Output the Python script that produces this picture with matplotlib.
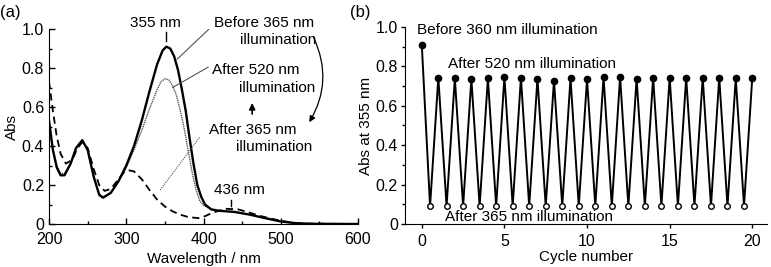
import numpy as np
import matplotlib.pyplot as plt
from matplotlib.ticker import MultipleLocator
from matplotlib.patches import FancyArrowPatch

plt.rcParams['font.family'] = ['Liberation Sans', 'DejaVu Sans']
plt.rcParams['font.size'] = 10

# (a) absorption spectra
wl_before = [200, 205, 210, 215, 220, 228, 235, 243, 250, 258, 265, 270, 280, 290, 300,
             310, 320, 330, 340, 347, 352, 357, 362, 367, 372, 377, 382, 387, 392, 397,
             402, 410, 420, 440, 460, 480, 500, 520, 540, 600]
abs_before = [0.53, 0.38, 0.29, 0.25, 0.25, 0.31, 0.39, 0.43, 0.38, 0.24, 0.15, 0.135, 0.16, 0.22, 0.30,
              0.40, 0.53, 0.68, 0.82, 0.89, 0.91, 0.90, 0.86, 0.79, 0.69, 0.58, 0.44, 0.31, 0.20, 0.14,
              0.10, 0.075, 0.068, 0.062, 0.048, 0.03, 0.013, 0.004, 0.001, 0.0]

wl_after520 = [200, 205, 210, 215, 220, 228, 235, 243, 250, 258, 265, 270, 280, 290, 300,
               310, 320, 330, 340, 345, 350, 355, 360, 365, 370, 375, 380, 385, 390, 395,
               400, 410, 420, 440, 460, 480, 500, 520, 540, 600]
abs_after520 = [0.52, 0.38, 0.30, 0.26, 0.26, 0.31, 0.39, 0.43, 0.38, 0.24, 0.15, 0.14, 0.16, 0.22, 0.29,
                0.38, 0.48, 0.59, 0.69, 0.73, 0.745, 0.74, 0.71, 0.66, 0.58, 0.49, 0.38, 0.27, 0.18, 0.12,
                0.095, 0.075, 0.068, 0.062, 0.048, 0.03, 0.013, 0.004, 0.001, 0.0]

wl_after365 = [200, 205, 210, 215, 222, 230, 237, 243, 250, 258, 265, 272, 280, 290, 298,
               304, 310, 320, 330, 340, 350, 360, 370, 380, 393, 402, 410, 420, 430, 445,
               460, 470, 485, 500, 515, 530, 600]
abs_after365 = [0.73, 0.58, 0.45, 0.36, 0.31, 0.33, 0.39, 0.42, 0.39, 0.28, 0.20, 0.17, 0.18, 0.23, 0.27,
                0.275, 0.27, 0.23, 0.175, 0.125, 0.09, 0.065, 0.048, 0.036, 0.03, 0.04, 0.055, 0.068, 0.078, 0.075,
                0.058, 0.045, 0.03, 0.017, 0.007, 0.002, 0.0]

# (b) absorbance at 355 nm over switching cycles
cycle_high = list(range(0, 21))
abs_high = [0.91, 0.743, 0.74, 0.736, 0.74, 0.747, 0.743, 0.738, 0.728, 0.74, 0.736,
            0.747, 0.747, 0.738, 0.743, 0.743, 0.743, 0.743, 0.743, 0.74, 0.743]
cycle_low = [c + 0.5 for c in range(0, 20)]
abs_low = [0.091] * 20

yticks = [0, 0.2, 0.4, 0.6, 0.8, 1.0]
ytick_labels = ['0', '0.2', '0.4', '0.6', '0.8', '1.0']

fig = plt.figure(figsize=(7.71, 2.67), dpi=100)
ax1 = fig.add_axes([0.0636, 0.161, 0.4007, 0.730])
ax2 = fig.add_axes([0.525, 0.161, 0.470, 0.738])

# ---- panel (a)
ax1.plot(wl_after365, abs_after365, color='black', lw=1.3, ls=(0, (4, 2.5)))
ax1.plot(wl_after520, abs_after520, color='#555555', lw=1.0, ls=(0, (1, 0.6)))
ax1.plot(wl_before, abs_before, color='black', lw=1.7)
ax1.set_xlim(200, 600)
ax1.set_ylim(0, 1.0)
ax1.spines['top'].set_visible(False)
ax1.spines['right'].set_visible(False)
ax1.xaxis.set_major_locator(MultipleLocator(100))
ax1.xaxis.set_minor_locator(MultipleLocator(50))
ax1.yaxis.set_minor_locator(MultipleLocator(0.1))
ax1.set_yticks(yticks, ytick_labels)
ax1.tick_params(which='both', direction='in', labelsize=11.5, width=1)
ax1.tick_params(which='major', length=4)
ax1.tick_params(which='minor', length=2.5)
ax1.tick_params(axis='x', pad=6)
ax1.set_xlabel('Wavelength / nm', fontsize=11, labelpad=3)
ax1.set_ylabel('Abs', fontsize=11, labelpad=2)

ax1.text(338, 1.03, '355 nm', ha='center', va='center', fontsize=11, clip_on=False)
ax1.plot([351, 351], [0.94, 0.985], color='black', lw=1)
ax1.text(446, 0.174, '436 nm', ha='center', va='center', fontsize=11)
ax1.plot([436, 436], [0.09, 0.125], color='black', lw=1)

ax1.text(478, 1.03, 'Before 365 nm', ha='center', va='center', fontsize=11, clip_on=False)
ax1.text(497, 0.945, 'illumination', ha='center', va='center', fontsize=11)
ax1.text(467, 0.79, 'After 520 nm', ha='center', va='center', fontsize=11)
ax1.text(495, 0.70, 'illumination', ha='center', va='center', fontsize=11)
ax1.text(464, 0.48, 'After 365 nm', ha='center', va='center', fontsize=11)
ax1.text(492, 0.395, 'illumination', ha='center', va='center', fontsize=11)

ax1.plot([366, 407], [0.846, 1.0], color='#555555', lw=0.8)
ax1.plot([360, 406], [0.70, 0.805], color='#555555', lw=0.8)
ax1.plot([344, 395], [0.175, 0.445], color='#555555', lw=0.8, ls=(0, (1, 1)))
ax1.annotate('', xy=(463, 0.635), xytext=(463, 0.55),
             arrowprops=dict(arrowstyle='-|>', color='black', lw=1.2, mutation_scale=9))
curve = FancyArrowPatch((541, 0.97), (535, 0.51), connectionstyle='arc3,rad=-0.28',
                        arrowstyle='-|>', mutation_scale=9, color='black', lw=0.9)
ax1.add_patch(curve)

# ---- panel (b)
zig_x = []
zig_y = []
for i in range(20):
    zig_x += [cycle_high[i], cycle_low[i]]
    zig_y += [abs_high[i], abs_low[i]]
zig_x.append(cycle_high[20])
zig_y.append(abs_high[20])
ax2.plot(zig_x, zig_y, color='black', lw=1.4, zorder=2)
ax2.plot(cycle_high, abs_high, 'o', ms=4.5, color='black', zorder=3)
ax2.plot(cycle_low, abs_low, 'o', ms=4, mfc='white', mec='black', mew=1, zorder=3)
ax2.set_xlim(-1.03, 20.9)
ax2.set_ylim(0, 1.0)
ax2.spines['top'].set_visible(False)
ax2.spines['right'].set_visible(False)
ax2.xaxis.set_major_locator(MultipleLocator(5))
ax2.yaxis.set_minor_locator(MultipleLocator(0.1))
ax2.set_yticks(yticks, ytick_labels)
ax2.tick_params(which='both', direction='out', labelsize=11.5, width=1)
ax2.tick_params(which='major', length=3)
ax2.tick_params(which='minor', length=2)
ax2.tick_params(axis='y', pad=2)
ax2.tick_params(axis='x', pad=4)
ax2.set_xlabel('Cycle number', fontsize=11, labelpad=1)
ax2.set_ylabel('Abs at 355 nm', fontsize=11, labelpad=2)

ax2.text(-0.3, 0.985, 'Before 360 nm illumination', ha='left', va='center', fontsize=11, clip_on=False)
ax2.text(1.58, 0.81, 'After 520 nm illumination', ha='left', va='center', fontsize=11)
ax2.text(1.4, 0.036, 'After 365 nm illumination', ha='left', va='center', fontsize=11)

fig.text(0.0, 0.955, '(a)', fontsize=12, ha='left', va='center')
fig.text(0.454, 0.955, '(b)', fontsize=12, ha='left', va='center')

fig.savefig('out.png', dpi=100)
